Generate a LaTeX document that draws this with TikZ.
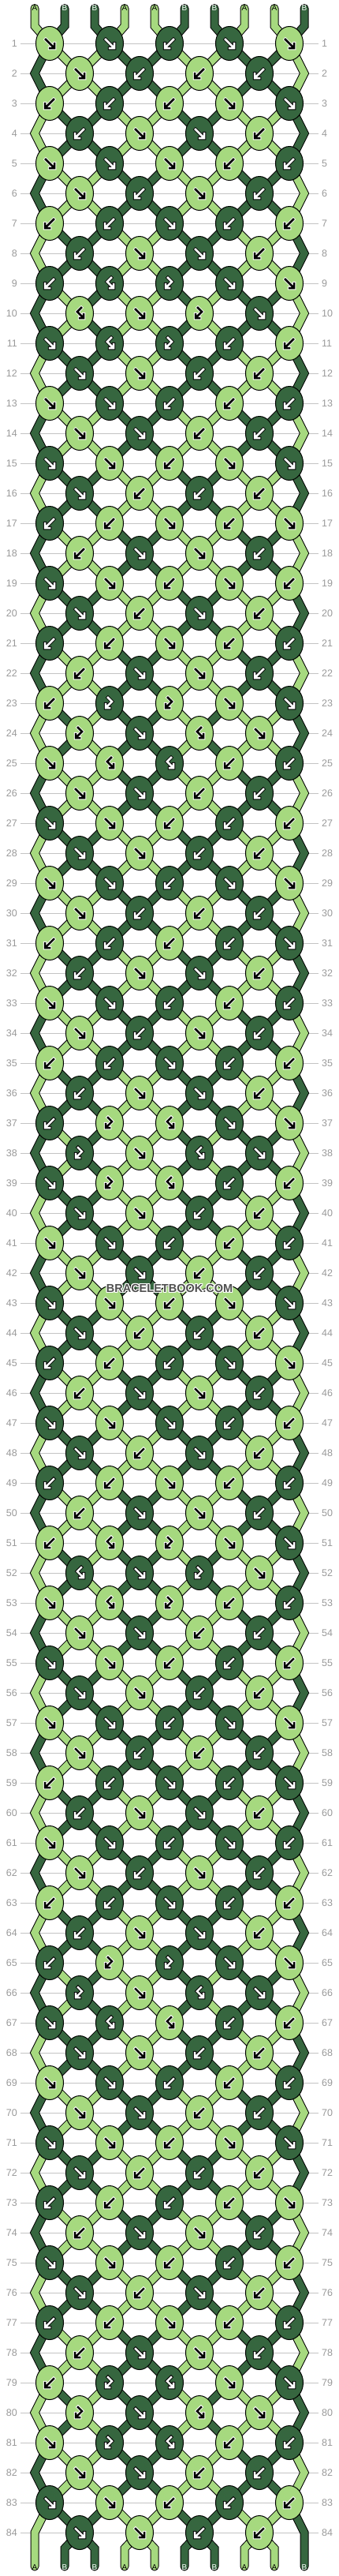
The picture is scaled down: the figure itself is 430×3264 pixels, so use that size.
\documentclass[tikz,border=0pt]{standalone}
\usepackage{fontspec}
\newfontfamily\labfont{Liberation Sans}
\usetikzlibrary{shapes.geometric}
\definecolor{lite}{HTML}{A6D97F}
\definecolor{dark}{HTML}{36663F}
\definecolor{numgrey}{HTML}{999999}
\definecolor{linegrey}{HTML}{C4C4C4}
\definecolor{markgrey}{HTML}{505050}

\def\tf{f}\def\tb{b}\def\tfb{fb}\def\cdark{dark}
\def\rows{
  {f,f,b,f,f},{f,b,b,b},{b,b,b,f,f},{b,f,f,b},{f,f,f,b,b},{f,b,f,b},
  {b,b,f,b,b},{b,f,f,b},{b,fb,bf,f,f},{fb,f,bf,f},{f,fb,bf,b,b},{f,f,b,b},
  {f,f,b,b,b},{f,f,b,b},{f,f,b,f,f},{f,b,b,b},{b,b,f,b,f},{b,f,f,b},
  {f,f,b,f,b},{f,b,f,b},{b,b,f,b,b},{b,f,f,b},{b,bf,bf,f,f},{bf,f,fb,f},
  {f,fb,fb,b,b},{f,f,b,b},{f,f,b,b,b},{f,f,b,b},{f,f,b,f,f},{f,b,b,b},
  {b,b,b,b,f},{b,f,f,b},{f,f,b,b,b},{f,b,f,b},{b,b,f,b,b},{b,f,f,b},
  {b,bf,fb,f,f},{bf,f,fb,f},{f,bf,fb,b,b},{f,f,b,b},{f,f,b,b,b},{f,f,b,b},
  {f,f,b,f,f},{f,b,b,b},{b,b,b,f,f},{b,f,f,b},{f,f,f,b,b},{f,b,f,b},
  {b,b,f,b,b},{b,f,f,b},{b,fb,bf,f,f},{fb,f,bf,f},{f,fb,bf,b,b},{f,f,b,b},
  {f,f,b,b,b},{f,f,b,b},{f,f,b,f,f},{f,b,b,b},{b,b,f,b,f},{b,f,f,b},
  {f,f,b,f,b},{f,b,f,b},{b,b,f,b,b},{b,f,f,b},{b,bf,bf,f,f},{bf,f,fb,f},
  {f,fb,fb,b,b},{f,f,b,b},{f,f,b,b,b},{f,f,b,b},{f,f,b,f,f},{f,b,b,b},
  {b,b,b,b,f},{b,f,f,b},{f,f,b,b,b},{f,b,f,b},{b,b,f,b,b},{b,f,f,b},
  {b,bf,fb,f,f},{bf,f,fb,f},{f,bf,fb,b,b},{f,f,b,b},{f,f,b,b,b},{f,f,b,b}}

\newcommand\swapthr[2]{%
  \edef\colL{\csname tc#1\endcsname}\edef\colR{\csname tc#2\endcsname}%
  \expandafter\xdef\csname tc#1\endcsname{\colR}%
  \expandafter\xdef\csname tc#2\endcsname{\colL}}

% all string pieces, once with style rim and once with style band
\newcommand\strands[1]{%
  \foreach \r in {1,...,84} {
    \pgfmathtruncatemacro\odd{mod(\r,2)}
    \pgfmathtruncatemacro\prev{\r-1}
    \pgfmathtruncatemacro\pprev{\r-2}
    \ifnum\r=1
      \foreach \i in {1,...,10} {
        \edef\thcol{\csname c1-\i\endcsname}
        \draw[#1=\thcol] (top\i) -- (tb\i) -- (p1-\i);}
    \else
      \foreach \i in {2,...,9} {
        \edef\thcol{\csname c\r-\i\endcsname}
        \draw[#1=\thcol] (p\prev-\i) -- (p\r-\i);}
      \ifnum\odd=1
        \foreach \i in {1,10} {
          \edef\thcol{\csname c\r-\i\endcsname}
          \draw[#1=\thcol] (p\pprev-\i) -- (p\prev-\i) -- (p\r-\i);}
      \fi
    \fi
  }
  \foreach \i in {2,...,9} {
    \edef\thcol{\csname c85-\i\endcsname}
    \draw[#1=\thcol] (p84-\i) -- (bb\i) -- (bot\i);}
  \foreach \i in {1,10} {
    \edef\thcol{\csname c85-\i\endcsname}
    \draw[#1=\thcol] (p83-\i) -- (p84-\i) -- (bot\i);}
}

\begin{document}
\begin{tikzpicture}[x=1pt,y=-1pt]
  \tikzset{
    knot/.style={ellipse,draw,line width=1pt,minimum width=35pt,minimum height=43pt,inner sep=0pt},
    rim/.style={line width=11pt,line cap=round,line join=miter,draw=black},
    band/.style={line width=9pt,line cap=round,line join=miter,draw=#1},
    rowline/.style={linegrey,line width=1pt},
    rownum/.style={font=\labfont\fontsize{12.5}{12.5}\selectfont,text=numgrey,inner sep=0pt},
    endlab/.style={font=\labfont\fontsize{10}{10}\selectfont,inner sep=0pt},
    wmark/.style={font=\labfont\bfseries\fontsize{14.5}{14.5}\selectfont,text=#1},
    halo/.style={line width=4.5pt,line cap=rect,draw=#1},
    arr/.style={line width=2.5pt,line cap=rect,draw=#1},
    pics/kf/.style n args={2}{code={
      \draw[halo=#2] (-5,-5) -- (5,5) (0,6) -- (6,6) -- (6,0);
      \draw[arr=#1] (-5,-5) -- (5,5) (0,6) -- (6,6) -- (6,0);}},
    pics/kb/.style n args={2}{code={
      \draw[halo=#2] (5,-5) -- (-5,5) (0,6) -- (-6,6) -- (-6,0);
      \draw[arr=#1] (5,-5) -- (-5,5) (0,6) -- (-6,6) -- (-6,0);}},
    pics/kfb/.style n args={2}{code={
      \draw[halo=#2] (2,-7) -- (-3,-2) -- (4,5) (0,6) -- (5,6) -- (5,1);
      \draw[arr=#1] (2,-7) -- (-3,-2) -- (4,5) (0,6) -- (5,6) -- (5,1);}},
    pics/kbf/.style n args={2}{code={
      \draw[halo=#2] (-2,-7) -- (3,-2) -- (-4,5) (0,6) -- (-5,6) -- (-5,1);
      \draw[arr=#1] (-2,-7) -- (3,-2) -- (-4,5) (0,6) -- (-5,6) -- (-5,1);}},
  }
  \useasboundingbox (0,0) rectangle (430,3264);

  % string ends at the top and bottom
  \foreach \i/\c in {1/lite,2/dark,3/dark,4/lite,5/lite,6/dark,7/dark,8/lite,9/lite,10/dark} {
    \expandafter\xdef\csname tc\i\endcsname{\c}
    \pgfmathtruncatemacro\xx{6+38*\i}
    \coordinate (top\i) at (\xx,10.5);
    \coordinate (tb\i) at (\xx,33);
    \coordinate (bb\i) at (\xx,3229);
    \coordinate (bot\i) at (\xx,3252);
  }

  % rows: grid, numbers, knot places, colours
  \foreach \row [count=\r] in \rows {
    \pgfmathtruncatemacro\yy{17+38*\r}
    \pgfmathtruncatemacro\odd{mod(\r,2)}
    \draw[rowline] (26,\yy) -- (404,\yy);
    \node[rownum,anchor=east] (ln\r) at (22,\yy) {\r};
    \node[rownum,anchor=west] (rn\r) at (408,\yy) {\r};
    \foreach \i in {1,...,10} {
      \expandafter\xdef\csname c\r-\i\endcsname{\csname tc\i\endcsname}}
    \ifnum\odd=0
      \coordinate (p\r-1) at (44,\yy);
      \coordinate (p\r-10) at (386,\yy);
    \fi
    \foreach \ty [count=\j] in \row {
      \pgfmathtruncatemacro\p{\odd==1 ? 2*\j-1 : 2*\j}
      \pgfmathtruncatemacro\q{\p+1}
      \pgfmathtruncatemacro\xx{25+38*\p}
      \coordinate (k\r-\j) at (\xx,\yy);
      \coordinate (p\r-\p) at (k\r-\j);
      \coordinate (p\r-\q) at (k\r-\j);
      \edef\kty{\ty}
      \edef\colL{\csname tc\p\endcsname}\edef\colR{\csname tc\q\endcsname}
      \ifx\kty\tf \let\kc\colL \else \ifx\kty\tfb \let\kc\colL \else \let\kc\colR \fi\fi
      \expandafter\xdef\csname kc\r-\j\endcsname{\kc}
      \ifx\kty\tf \swapthr\p\q \fi
      \ifx\kty\tb \swapthr\p\q \fi
    }
  }
  \foreach \i in {1,...,10} {
    \expandafter\xdef\csname c85-\i\endcsname{\csname tc\i\endcsname}}

  % strings: black rim first, then colour
  \strands{rim}
  \strands{band}

  \foreach \i in {1,...,10} {
    \edef\c{\csname c1-\i\endcsname}
    \ifx\c\cdark \node[endlab,text=white] (ta\i) at (top\i) {B};
    \else \node[endlab] (ta\i) at (top\i) {A}; \fi
    \edef\c{\csname c85-\i\endcsname}
    \ifx\c\cdark \node[endlab,text=white] (ba\i) at ([yshift=-1pt]bot\i) {B};
    \else \node[endlab] (ba\i) at ([yshift=-1pt]bot\i) {A}; \fi
  }

  % knots
  \foreach \row [count=\r] in \rows {
    \foreach \ty [count=\j] in \row {
      \edef\kc{\csname kc\r-\j\endcsname}
      \ifx\kc\cdark \def\ac{white}\def\hc{black}\else \def\ac{black}\def\hc{white}\fi
      \node[knot,fill=\kc] (n\r-\j) at (k\r-\j) {};
      \pic at (n\r-\j) {k\ty={\ac}{\hc}};
    }
  }

  % watermark with a white edge
  \foreach \dx/\dy in {-1/0,1/0,0/-1,0/1,-1/-1,1/1,-1/1,1/-1}
    \node[wmark=white] at (215+\dx,1632+\dy) {BRACELETBOOK.COM};
  \node[wmark=markgrey] (wm) at (215,1632) {BRACELETBOOK.COM};
\end{tikzpicture}
\end{document}
